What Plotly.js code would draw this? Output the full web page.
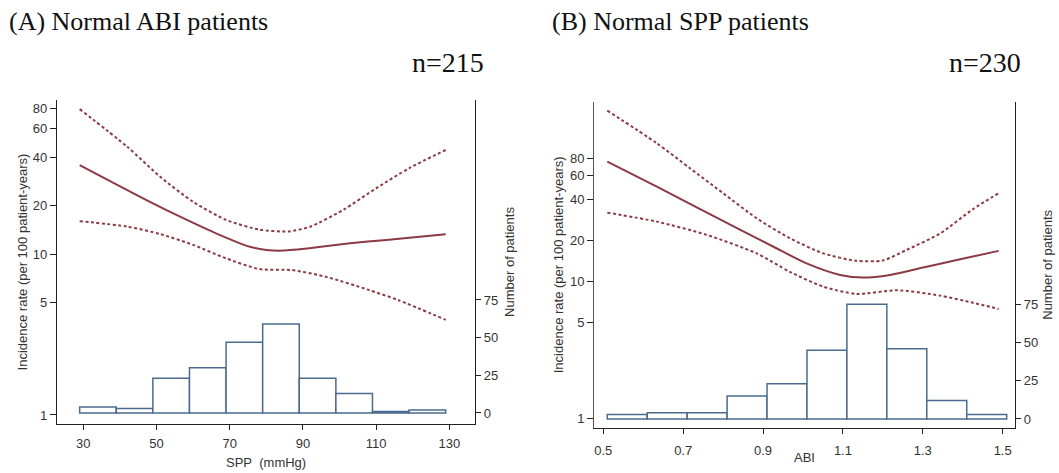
<!DOCTYPE html>
<html><head><meta charset="utf-8">
<script src="https://cdn.plot.ly/plotly-3.0.1.min.js"></script>
<style>html,body{margin:0;padding:0;background:#fff}#chart{width:1059px;height:473px}</style>
</head><body><div id="chart"></div>
<script>
// ---------- Panel A: Normal ABI patients (x = SPP, mmHg) ----------
const sppFitX   = [29, 48.2, 57.3, 66.4, 75.5, 80, 84.6, 93.8, 102.9, 112, 129];
const sppFitY   = [35.7, 21.1, 16.7, 13.4, 11.1, 10.6, 10.5, 11.0, 11.65, 12.2, 13.25];
const sppUpX    = [29, 42, 51, 60, 69, 78, 86, 92, 101, 110, 119, 129];
const sppUpY    = [79.5, 46.4, 30.2, 21.1, 16.3, 14.2, 13.8, 14.8, 18.8, 25.6, 34.1, 44.3];
const sppLoX    = [29, 42, 51, 60, 69, 78, 87, 96.5, 108, 116, 129];
const sppLoY    = [16.0, 14.8, 13.3, 11.4, 9.4, 8.07, 7.95, 7.2, 5.98, 5.18, 3.9];
const sppBinStart = [29, 39, 49, 59, 69, 79, 89, 99, 109, 119];
const sppBinWidth = 10;
const sppCounts = [4, 3, 23, 30, 47, 59, 23, 13, 1, 2];
const sppTicks = [30, 50, 70, 90, 110, 130];

// ---------- Panel B: Normal SPP patients (x = ABI) ----------
const abiFitX   = [0.51, 0.634, 0.842, 0.926, 1.009, 1.093, 1.151, 1.218, 1.301, 1.385, 1.49];
const abiFitY   = [75.6, 49.6, 24.0, 18.0, 13.6, 11.2, 10.7, 11.2, 12.7, 14.4, 16.8];
const abiUpX    = [0.51, 0.634, 0.717, 0.80, 0.884, 0.967, 1.051, 1.134, 1.2, 1.26, 1.343, 1.426, 1.49];
const abiUpY    = [178.6, 103, 67.6, 44.4, 29.1, 20.8, 16.1, 14.2, 14.3, 17.1, 22.5, 34.0, 44.4];
const abiLoX    = [0.51, 0.634, 0.759, 0.884, 0.967, 1.051, 1.134, 1.235, 1.343, 1.426, 1.49];
const abiLoY    = [32, 27.5, 22, 16.1, 11.8, 9.19, 8.13, 8.65, 7.9, 7.0, 6.31];
const abiBinStart = [0.51, 0.61, 0.71, 0.81, 0.91, 1.01, 1.11, 1.21, 1.31, 1.41];
const abiBinWidth = 0.1;
const abiCounts = [3, 4, 4, 15, 23, 45, 75, 46, 12, 3];
const abiTicks = [0.5, 0.7, 0.9, 1.1, 1.3, 1.5];
const abiTickText = ['0.5', '0.7', '0.9', '1.1', '1.3', '1.5'];

const rateTicks = [1, 5, 10, 20, 40, 60, 80];
const countTicks = [0, 25, 50, 75];
const titleA = '(A) Normal ABI patients', nA = 'n=215';
const titleB = '(B) Normal SPP patients', nB = 'n=230';
const xTitleA = 'SPP\u00a0 (mmHg)', xTitleB = 'ABI';
const yTitleRate = 'Incidence rate (per 100 patient-years)', yTitleCount = 'Number of patients';

const RED = '#8C3A44', BLUE = '#4A6B8E', AX = '#222';
const sans = 'Liberation Sans, Arial, sans-serif';
const serif = 'Liberation Serif, Times New Roman, serif';

function bars(starts, w, counts, xa, ya) {
  return {type: 'bar', x: starts.map(s => s + w / 2), y: counts, width: w,
    xaxis: xa, yaxis: ya, marker: {color: '#fff', line: {color: BLUE, width: 1.5}},
    hoverinfo: 'skip', showlegend: false};
}
function line(x, y, xa, ya, dash) {
  return {type: 'scatter', mode: 'lines', x: x, y: y, xaxis: xa, yaxis: ya,
    line: {color: RED, width: 2, dash: dash ? '3px,2.5px' : 'solid', shape: 'spline', smoothing: 0.7},
    hoverinfo: 'skip', showlegend: false};
}

const data = [
  bars(sppBinStart, sppBinWidth, sppCounts, 'x', 'y'),
  line(sppUpX, sppUpY, 'x', 'y2', true),
  line(sppLoX, sppLoY, 'x', 'y2', true),
  line(sppFitX, sppFitY, 'x', 'y2', false),
  bars(abiBinStart, abiBinWidth, abiCounts, 'x2', 'y3'),
  line(abiUpX, abiUpY, 'x2', 'y4', true),
  line(abiLoX, abiLoY, 'x2', 'y4', true),
  line(abiFitX, abiFitY, 'x2', 'y4', false)
];

const tickFont = {family: sans, size: 13, color: '#333'};
const base = {showline: true, linecolor: AX, linewidth: 1.2, ticks: 'outside', ticklen: 5,
  tickcolor: AX, tickwidth: 1, showgrid: false, zeroline: false, tickfont: tickFont, fixedrange: true};
const tfont = {family: sans, size: 13, color: '#333'};

const layout = {
  width: 1059, height: 473, margin: {l: 0, r: 0, t: 0, b: 0},
  paper_bgcolor: '#fff', plot_bgcolor: 'rgba(0,0,0,0)', showlegend: false, bargap: 0,
  xaxis: Object.assign({}, base, {domain: [0.0538, 0.4485], range: [22.8, 137], anchor: 'y',
    tickmode: 'array', tickvals: sppTicks, ticklabelstandoff: 2}),
  yaxis: Object.assign({}, base, {domain: [0.1036, 0.7886], range: [-7.3, 207.7], anchor: 'x', side: 'right',
    tickmode: 'array', tickvals: countTicks,
    title: {text: yTitleCount, font: tfont, standoff: 7}}),
  yaxis2: Object.assign({}, base, {overlaying: 'y', side: 'left', anchor: 'x', type: 'log', range: [-0.056, 1.957],
    tickmode: 'array', tickvals: rateTicks, ticktext: rateTicks.map(String), ticklen: 6,
    title: {text: yTitleRate, font: tfont, standoff: 2}}),
  xaxis2: Object.assign({}, base, {domain: [0.5612, 0.9585], range: [0.4775, 1.531], anchor: 'y3',
    tickmode: 'array', tickvals: abiTicks, ticktext: abiTickText, ticklabelstandoff: 6}),
  yaxis3: Object.assign({}, base, {domain: [0.0958, 0.7844], range: [-5.7, 207.3], anchor: 'x2', side: 'right',
    tickmode: 'array', tickvals: countTicks,
    title: {text: yTitleCount, font: tfont, standoff: 5}}),
  yaxis4: Object.assign({}, base, {overlaying: 'y3', side: 'left', anchor: 'x2', type: 'log', range: [-0.069, 2.315],
    tickmode: 'array', tickvals: rateTicks, ticktext: rateTicks.map(String), ticklen: 6, linecolor: '#555',
    title: {text: yTitleRate, font: tfont, standoff: 3}}),
  annotations: [
    {text: titleA, xref: 'paper', yref: 'paper', x: 7 / 1059, y: 1 - 22 / 473, xanchor: 'left', yanchor: 'middle',
     showarrow: false, font: {family: serif, size: 26, color: '#111'}},
    {text: nA, xref: 'paper', yref: 'paper', x: 486 / 1059, y: 1 - 62 / 473, xanchor: 'right', yanchor: 'middle',
     showarrow: false, font: {family: serif, size: 28, color: '#111'}},
    {text: titleB, xref: 'paper', yref: 'paper', x: 550 / 1059, y: 1 - 22 / 473, xanchor: 'left', yanchor: 'middle',
     showarrow: false, font: {family: serif, size: 26, color: '#111'}},
    {text: nB, xref: 'paper', yref: 'paper', x: 1023 / 1059, y: 1 - 62 / 473, xanchor: 'right', yanchor: 'middle',
     showarrow: false, font: {family: serif, size: 28, color: '#111'}},
    {text: xTitleA, xref: 'x domain', yref: 'paper', x: 0.5, y: 1 - 462 / 473, xanchor: 'center', yanchor: 'middle',
     showarrow: false, font: tfont},
    {text: xTitleB, xref: 'x2 domain', yref: 'paper', x: 0.5, y: 1 - 457 / 473, xanchor: 'center', yanchor: 'middle',
     showarrow: false, font: tfont}
  ]
};

Plotly.newPlot('chart', data, layout, {displayModeBar: false, staticPlot: true});
</script></body></html>
